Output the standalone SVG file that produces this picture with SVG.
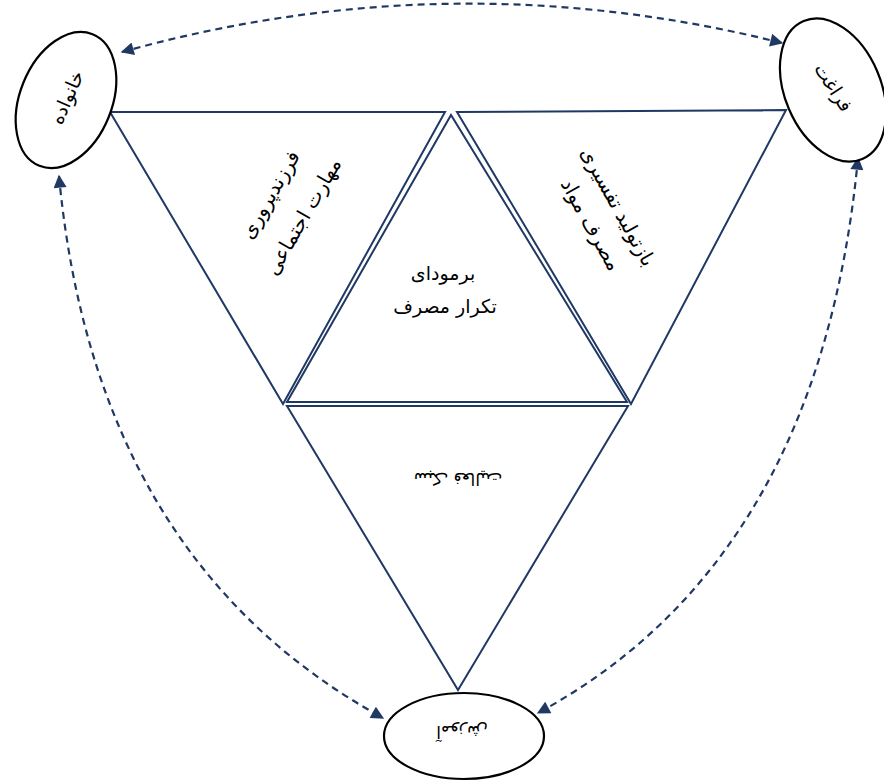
<svg xmlns="http://www.w3.org/2000/svg" width="884" height="783" viewBox="0 0 884 783">
<defs>
<style>
.tri{fill:#fff;stroke:#1F3864;stroke-width:2;stroke-linejoin:miter}
.ell{fill:#fff;stroke:#000;stroke-width:2.2}
.con{fill:none;stroke:#1F3864;stroke-width:2.2;stroke-dasharray:7 5;marker-start:url(#ah);marker-end:url(#ah)}
.t{font-family:"DejaVu Sans",sans-serif;font-size:17px;fill:#000;text-anchor:middle}
.side{font-size:20px}
.mid{font-size:19px}
.node{font-size:19px}
</style>
<marker id="ah" markerUnits="userSpaceOnUse" markerWidth="15" markerHeight="13" viewBox="0 0 10 10" refX="9" refY="5" orient="auto-start-reverse">
<path d="M0,0 L10,5 L0,10 z" fill="#1F3864"/>
</marker>
</defs>
<rect width="884" height="783" fill="#fff"/>
<g id="tri-left">
<polygon class="tri" points="110,112 445,112 283,404"/>
<text class="t side" transform="translate(276,198) rotate(-60)">فرزندپروری</text>
<text class="t side" transform="translate(309,220) rotate(-60)">مهارت اجتماعی</text>
</g>
<g id="tri-right">
<polygon class="tri" points="457,112 786,110 631,404"/>
<text class="t side" transform="translate(612,210) rotate(61)">بازتولید تفسیری</text>
<text class="t side" transform="translate(585,228) rotate(61)">مصرف مواد</text>
</g>
<g id="tri-center">
<polygon class="tri" points="451,115 287,402 627,402"/>
<text class="t mid" x="443" y="280">برمودای</text>
<text class="t mid" x="445" y="313">تکرار مصرف</text>
</g>
<g id="tri-bottom">
<polygon class="tri" points="287,406 628,406 458,690"/>
<text class="t" transform="translate(458,473) rotate(180)">سبک فعالیت</text>
</g>
<g id="connectors">
<path class="con" d="M122,52 Q452,-40 782,43"/>
<path class="con" d="M59,176 Q95,560 383,718"/>
<path class="con" d="M858,158 Q820,560 538,713"/>
</g>
<g id="node-family">
<ellipse class="ell" cx="66" cy="100" rx="46" ry="71" transform="rotate(22 66 100)"/>
<text class="t node" transform="translate(73,100) rotate(-66)">خانواده</text>
</g>
<g id="node-leisure">
<ellipse class="ell" cx="833" cy="90" rx="48" ry="75" transform="rotate(-23 833 90)"/>
<text class="t node" transform="translate(828,91) rotate(57)">فراغت</text>
</g>
<g id="node-education">
<ellipse class="ell" cx="464" cy="736" rx="80" ry="43"/>
<text class="t" transform="translate(462,726) rotate(180)">آموزش</text>
</g>
</svg>
